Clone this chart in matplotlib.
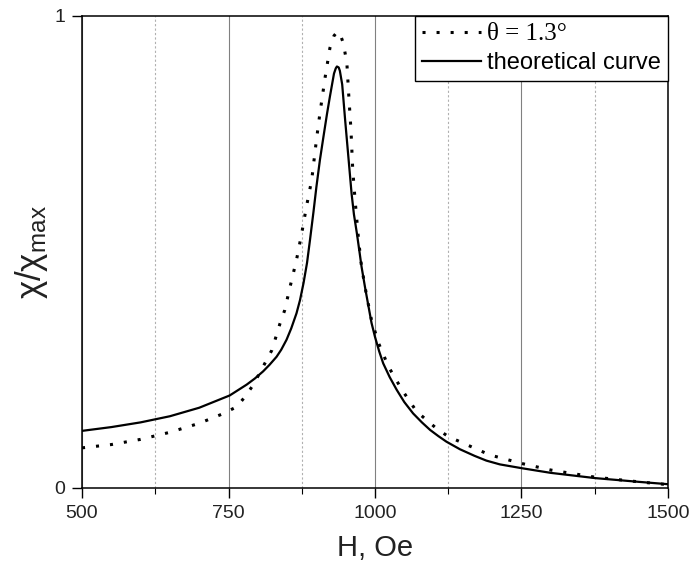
import matplotlib
matplotlib.use("Agg")
import matplotlib.pyplot as plt
from matplotlib.ticker import FixedLocator

plt.rcParams['mathtext.fontset'] = 'custom'
plt.rcParams['mathtext.rm'] = 'Liberation Sans'
plt.rcParams['mathtext.it'] = 'Liberation Sans:italic'

# Data
H_theory = [500, 550, 600, 650, 700, 752, 781, 795, 809, 820, 832, 840, 849, 857, 866, 872,
            878, 884, 889, 895, 900, 906, 912, 918, 923, 927, 930, 933, 935, 938, 940,
            944, 949, 955, 960, 964, 969, 973, 977, 983, 989, 994, 1000, 1007, 1014,
            1025, 1037, 1050, 1065, 1080, 1094, 1108, 1122, 1145, 1170, 1190, 1213,
            1250, 1300, 1375, 1450, 1500]
chi_theory = [0.121, 0.129, 0.139, 0.152, 0.170, 0.196, 0.219, 0.232, 0.247, 0.261, 0.278,
              0.293, 0.314, 0.338, 0.370, 0.398, 0.434, 0.477, 0.525, 0.585, 0.638,
              0.695, 0.744, 0.792, 0.829, 0.857, 0.878, 0.889, 0.893, 0.891, 0.884,
              0.855, 0.780, 0.695, 0.624, 0.580, 0.540, 0.505, 0.469, 0.425, 0.384,
              0.350, 0.320, 0.290, 0.264, 0.235, 0.208, 0.182, 0.158, 0.139, 0.123,
              0.110, 0.098, 0.082, 0.068, 0.058, 0.050, 0.042, 0.032, 0.021, 0.013,
              0.008]

H_exp = [500, 550, 600, 650, 700, 740, 764, 778, 792, 812, 824, 838, 846, 855, 866,
         875, 883, 892, 900, 906, 915, 923, 930, 936, 941, 946, 952, 955, 959, 962,
         966, 972, 977, 986, 994, 1006, 1023, 1046, 1071, 1105, 1125, 1196, 1250,
         1300, 1375, 1450, 1500]
chi_exp = [0.085, 0.092, 0.103, 0.118, 0.137, 0.157, 0.172, 0.193, 0.218, 0.264,
           0.292, 0.349, 0.377, 0.426, 0.483, 0.540, 0.596, 0.653, 0.737, 0.794,
           0.871, 0.932, 0.958, 0.967, 0.960, 0.942, 0.900, 0.836, 0.758, 0.674,
           0.610, 0.525, 0.469, 0.405, 0.356, 0.307, 0.257, 0.208, 0.162, 0.126,
           0.109, 0.070, 0.052, 0.038, 0.023, 0.013, 0.007]

exp_label = 'θ = 1.3°'
theory_label = 'theoretical curve'
x_ticks = [500, 750, 1000, 1250, 1500]
x_minor = [625, 875, 1125, 1375]
y_ticks = [0, 1]

fig = plt.figure(figsize=(6.91, 5.71), dpi=100)
ax = fig.add_axes([0.1187, 0.1454, 0.8480, 0.8266])

# grid
for xm in x_ticks:
    ax.axvline(xm, color='#808080', lw=0.8, zorder=0)
for xm in x_minor:
    ax.axvline(xm, color='#b0b0b0', lw=0.8, ls=(0, (2, 2)), zorder=0)

l1, = ax.plot(H_exp, chi_exp, color='black', lw=2.2, ls=(0, (1, 3.6)))
l2, = ax.plot(H_theory, chi_theory, color='black', lw=1.6)

ax.set_xlim(500, 1500)
ax.set_ylim(0, 1)
ax.xaxis.set_major_locator(FixedLocator(x_ticks))
ax.xaxis.set_minor_locator(FixedLocator(x_minor))
ax.yaxis.set_major_locator(FixedLocator(y_ticks))
ax.tick_params(axis='both', which='major', direction='out', length=7, width=1,
               labelsize=14, pad=5, labelcolor='#222222')
ax.tick_params(axis='x', which='minor', direction='out', length=4, width=0.8)
for lab in ax.get_xticklabels() + ax.get_yticklabels():
    lab.set_family(['Liberation Sans Narrow', 'Liberation Sans', 'DejaVu Sans'])

for s in ax.spines.values():
    s.set_linewidth(1.1)
    s.set_color('black')

ax.set_xlabel('H, Oe', fontsize=21, family=['Liberation Sans', 'DejaVu Sans'],
              labelpad=9, color='#222222')
ax.set_ylabel(r'χ/χ$_{\mathrm{max}}$', fontsize=25, family=['Liberation Sans', 'DejaVu Sans'],
              labelpad=3, color='#222222')

leg = ax.legend([l1, l2], [exp_label, theory_label], loc='upper right',
                borderaxespad=0, fancybox=False, framealpha=1, edgecolor='black',
                handlelength=2.5, handletextpad=0.25, borderpad=0.3, labelspacing=0.3,
                prop={'family': ['Liberation Sans', 'DejaVu Sans'], 'size': 17})
leg.get_frame().set_linewidth(1.0)
leg.get_texts()[0].set_family(['Liberation Serif', 'DejaVu Serif'])
leg.get_texts()[0].set_fontsize(18)

fig.savefig('out.png', dpi=100)
